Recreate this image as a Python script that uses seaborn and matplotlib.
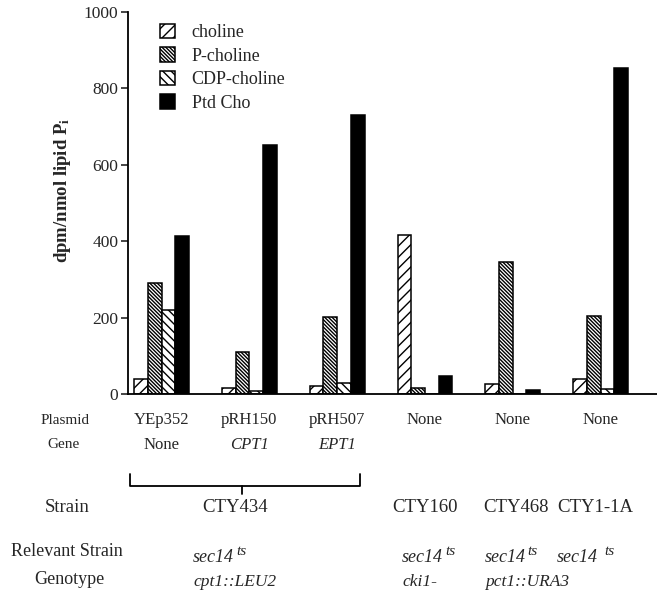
import numpy as np
import pandas as pd
import matplotlib
matplotlib.use("Agg")
import matplotlib.pyplot as plt
import matplotlib.transforms as mtransforms
from matplotlib.patches import Patch
import seaborn as sns

# ---------------- data ----------------
lanes = ["L1", "L2", "L3", "L4", "L5", "L6"]
plasmids = ["YEp352", "pRH150", "pRH507", "None", "None", "None"]
genes = ["None", "CPT1", "EPT1", "", "", ""]
gene_italic = [False, True, True, False, False, False]
series = ["choline", "P-choline", "CDP-choline", "Ptd Cho"]
choline = [38, 16, 21, 417, 26, 39]
p_choline = [291, 110, 202, 16, 346, 205]
cdp_choline = [220, 8, 29, 0, 1, 14]
ptd_cho = [414, 652, 730, 47, 10, 853]
yticks = [0, 200, 400, 600, 800, 1000]
strains = ["CTY434", "CTY160", "CTY468", "CTY1-1A"]
genotype_line1 = ["sec14", "sec14", "sec14", "sec14"]
genotype_sup = ["ts", "ts", "ts", "ts"]
genotype_line2 = ["cpt1::LEU2", "cki1-", "pct1::URA3", ""]

# ---------------- layout (not data) ----------------
strain_x = [0.84, 3.0, 4.04, 4.94]
genotype_x = [0.36, 2.74, 3.68, 4.50]
sup_gap = [1.5, 1.5, 1.5, 4.5]
hatches = ["///", "\\" * 9, "\\" * 4, ""]
colors = ["white", "white", "white", "black"]

sns.set_style("ticks")
plt.rcParams["font.family"] = ["Liberation Serif", "DejaVu Serif"]
plt.rcParams["mathtext.fontset"] = "custom"
plt.rcParams["mathtext.rm"] = "Liberation Serif"
plt.rcParams["mathtext.it"] = "Liberation Serif:italic"
plt.rcParams["mathtext.bf"] = "Liberation Serif:bold"
plt.rcParams["hatch.linewidth"] = 1.0

df = pd.DataFrame({
    "lane": lanes * 4,
    "series": np.repeat(series, len(lanes)),
    "value": choline + p_choline + cdp_choline + ptd_cho,
})

W, H = 657, 597
fig = plt.figure(figsize=(W / 100, H / 100), dpi=100)
ax_left, ax_right, ax_bot, ax_top = 128, 657, 394, 12
ax = fig.add_axes([ax_left / W, 1 - ax_bot / H, (ax_right - ax_left) / W, (ax_bot - ax_top) / H])

sns.barplot(data=df, x="lane", y="value", hue="series", order=lanes, hue_order=series,
            palette=colors, width=0.624, gap=0, edgecolor="black", linewidth=1.1,
            saturation=1, legend=False, errorbar=None, ax=ax)
for cont, h in zip(ax.containers, hatches):
    for bar in cont:
        bar.set_hatch(h)

ax.set_xlim(-0.382, 5.643)
ax.set_ylim(0, 1000)
ax.set_yticks(yticks)
ax.set_yticklabels([str(t) for t in yticks], fontsize=12.5)
ax.tick_params(axis="y", length=5, width=1.2, pad=2, direction="out")
ax.set_xticks(range(len(lanes)))
ax.set_xticklabels(plasmids, fontsize=12)
ax.tick_params(axis="x", length=0, pad=13)
ax.set_xlabel("")
for s in ["top", "right"]:
    ax.spines[s].set_visible(False)
for s in ["left", "bottom"]:
    ax.spines[s].set_linewidth(1.3)
    ax.spines[s].set_color("black")

ax.set_ylabel(r"dpm/nmol lipid P$_\mathbf{i}$", fontsize=13.5, fontweight="bold")
ax.yaxis.set_label_coords(-0.104, 0.534)

def ay(px):
    return (ax_bot - px) / (ax_bot - ax_top)

trans = mtransforms.blended_transform_factory(ax.transData, ax.transAxes)

# gene row
for i, (g, it) in enumerate(zip(genes, gene_italic)):
    if g:
        ax.text(i, ay(445), g, transform=trans, ha="center", va="center", fontsize=12,
                style="italic" if it else "normal", clip_on=False)

# bracket
x0, x1, xm = -0.36, 2.26, 0.92
ax.plot([x0, x0, x1, x1], [ay(474), ay(486), ay(486), ay(474)], transform=trans,
        color="black", lw=1.3, clip_on=False)
ax.plot([xm, xm], [ay(486), ay(494)], transform=trans, color="black", lw=1.3, clip_on=False)

# strain row
for x, s in zip(strain_x, strains):
    ax.text(x, ay(507), s, transform=trans, ha="center", va="center", fontsize=13.5, clip_on=False)

# genotype rows
for x, l1, sup, gap, l2 in zip(genotype_x, genotype_line1, genotype_sup, sup_gap, genotype_line2):
    t = ax.text(x, ay(558), l1, transform=trans, ha="left", va="center", fontsize=13,
                style="italic", clip_on=False)
    ax.annotate(sup, xy=(1, 0.5), xycoords=t, xytext=(gap, 0), textcoords="offset points",
                ha="left", va="bottom", fontsize=11, style="italic", annotation_clip=False)
    if l2:
        ax.text(x, ay(582), l2, transform=trans, ha="left", va="center", fontsize=12.5,
                style="italic", clip_on=False)

def fx(px):
    return px / W

def fy(py):
    return 1 - py / H

fig.text(fx(65), fy(421), "Plasmid", ha="center", va="center", fontsize=11)
fig.text(fx(63), fy(445), "Gene", ha="center", va="center", fontsize=11)
fig.text(fx(67), fy(507), "Strain", ha="center", va="center", fontsize=13.5)
fig.text(fx(67), fy(552), "Relevant Strain", ha="center", va="center", fontsize=13)
fig.text(fx(69), fy(580), "Genotype", ha="center", va="center", fontsize=13)

handles = [Patch(facecolor=c, edgecolor="black", hatch=h, linewidth=1.1) for c, h in zip(colors, hatches)]
fig.legend(handles, series, loc="upper left", bbox_to_anchor=(fx(160), fy(24)), frameon=False,
           fontsize=13, handlelength=0.85, handleheight=0.85, handletextpad=0.9,
           labelspacing=0.33, borderpad=0, borderaxespad=0)

fig.savefig("out.png", dpi=100)
